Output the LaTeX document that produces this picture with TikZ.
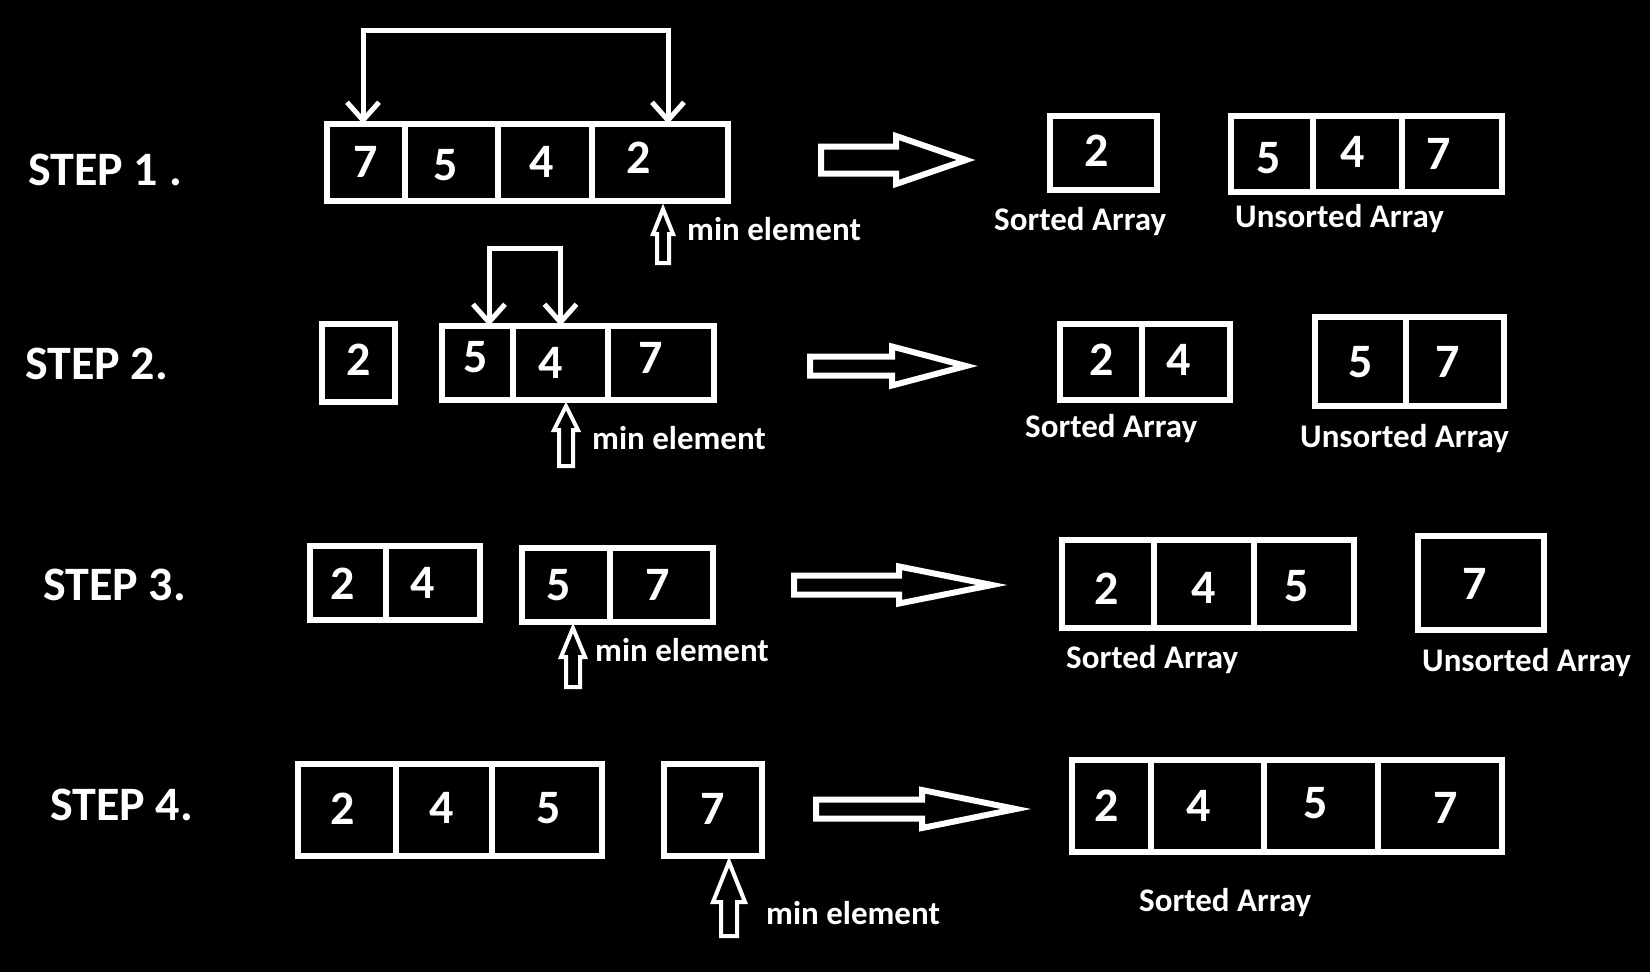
\documentclass[tikz,border=0pt]{standalone}
\usepackage{fontspec}
\setmainfont{Carlito}
\usetikzlibrary{arrows.meta,calc}
\tikzset{
  cell/.style={draw=white, line width=6pt, inner sep=0pt, outer sep=0pt},
  digit/.style={text=white, font=\bfseries\fontsize{48}{48}\selectfont, inner sep=0pt},
  steplabel/.style={text=white, font=\bfseries\fontsize{48}{48}\selectfont, inner sep=0pt, anchor=west},
  caption/.style={text=white, font=\bfseries\fontsize{33}{33}\selectfont, inner sep=0pt, anchor=base west},
  swapline/.style={draw=white, line width=5pt, line join=miter,
    {Straight Barb[length=18pt,width=32pt]}-{Straight Barb[length=18pt,width=32pt]}},
  bigarrow/.style={draw=white, line width=6pt, line join=miter},
  minarrow/.style={draw=white, line width=4pt, line join=miter},
}
\newcommand\cellbox[5]{\node[cell, minimum width={#4-#2}, minimum height={#5-#3}] (#1) at ({(#2+#4)/2},{(#3+#5)/2}) {};}
% name, tail x, centre y, shaft half, head base x, head half, tip x
\newcommand\hollowright[7]{\draw[bigarrow] (#2,#3-#4) coordinate (#1) -- (#5,#3-#4) -- (#5,#3-#6) -- (#7,#3) -- (#5,#3+#6) -- (#5,#3+#4) -- (#2,#3+#4) -- cycle;}
% name, x, tip y, head base y, head half, shaft half, bottom y
\newcommand\hollowup[7]{\draw[minarrow] (#2,#3) coordinate (#1) -- (#2+#5,#4) -- (#2+#6,#4) -- (#2+#6,#7) -- (#2-#6,#7) -- (#2-#6,#4) -- (#2-#5,#4) -- cycle;}
\begin{document}
\begin{tikzpicture}[x=1pt,y=-1pt]
\fill[black] (0,0) rectangle (1650,972);
\useasboundingbox (0,0) rectangle (1650,972);

% ---------- STEP 1 ----------
\node[steplabel] (st1) at (28,170) {STEP 1 .};
\cellbox{s1a}{327}{124}{405}{201}
\cellbox{s1b}{405}{124}{498}{201}
\cellbox{s1c}{498}{124}{592}{201}
\cellbox{s1d}{592}{124}{728}{201}
\node[digit] (d1a) at (366,162) {7};
\node[digit] (d1b) at (446,165) {5};
\node[digit] (d1c) at (542,162) {4};
\node[digit] (d1d) at (639,158) {2};
\draw[swapline] ([xshift=-3pt]s1a.north) -- ++(0,-94) -| ([xshift=8pt]s1d.north);
\hollowup{m1}{663}{209}{234}{10}{6}{263}
\node[caption] (c1m) at (687,240) {min element};
\hollowright{a1}{821}{160}{13.5}{896}{24}{966}
\cellbox{s1s}{1050}{116}{1157}{190}
\node[digit] (d1s) at (1097,151) {2};
\node[caption] (c1s) at (994,230) {Sorted Array};
\cellbox{s1u1}{1231}{116}{1313}{192}
\cellbox{s1u2}{1313}{116}{1402}{192}
\cellbox{s1u3}{1402}{116}{1502}{192}
\node[digit] (d1u1) at (1269,158) {5};
\node[digit] (d1u2) at (1353,152) {4};
\node[digit] (d1u3) at (1439,154) {7};
\node[caption] (c1u) at (1235,227) {Unsorted Array};

% ---------- STEP 2 ----------
\node[steplabel] (st2) at (25,364) {STEP 2.};
\cellbox{s2a}{322}{324}{395}{402}
\node[digit] (d2a) at (359,360) {2};
\cellbox{s2b}{442}{326}{513}{400}
\cellbox{s2c}{513}{326}{608}{400}
\cellbox{s2d}{608}{326}{714}{400}
\node[digit] (d2b) at (476,357) {5};
\node[digit] (d2c) at (551,363) {4};
\node[digit] (d2d) at (651,358) {7};
\draw[swapline] ([xshift=11.5pt]s2b.north) -- ++(0,-78) -| (s2c.north);
\hollowup{m2}{566}{406}{430}{12}{7}{466}
\node[caption] (c2m) at (592,449) {min element};
\hollowright{a2}{810}{366}{9.5}{892}{19.5}{966}
\cellbox{s2s1}{1060}{324}{1142}{400}
\cellbox{s2s2}{1142}{324}{1230}{400}
\node[digit] (d2s1) at (1102,360) {2};
\node[digit] (d2s2) at (1179,360) {4};
\node[caption] (c2s) at (1025,437) {Sorted Array};
\cellbox{s2u1}{1315}{317}{1406}{406}
\cellbox{s2u2}{1406}{317}{1504}{406}
\node[digit] (d2u1) at (1361,362) {5};
\node[digit] (d2u2) at (1448,362) {7};
\node[caption] (c2u) at (1300,447) {Unsorted Array};

% ---------- STEP 3 ----------
\node[steplabel] (st3) at (43,585) {STEP 3.};
\cellbox{s3a}{310}{546}{386}{620}
\cellbox{s3b}{386}{546}{480}{620}
\node[digit] (d3a) at (343,584) {2};
\node[digit] (d3b) at (423,583) {4};
\cellbox{s3c}{522}{548}{610}{622}
\cellbox{s3d}{610}{548}{713}{622}
\node[digit] (d3c) at (559,585) {5};
\node[digit] (d3d) at (658,585) {7};
\hollowup{m3}{573}{628}{657}{12}{7}{687}
\node[caption] (c3m) at (595,661) {min element};
\hollowright{a3}{794}{585}{9.5}{899}{18.5}{992}
\cellbox{s3s1}{1062}{540}{1154}{628}
\cellbox{s3s2}{1154}{540}{1254}{628}
\cellbox{s3s3}{1254}{540}{1354}{628}
\node[digit] (d3s1) at (1107,589) {2};
\node[digit] (d3s2) at (1204,588) {4};
\node[digit] (d3s3) at (1297,586) {5};
\node[caption] (c3s) at (1066,668) {Sorted Array};
\cellbox{s3u}{1418}{536}{1544}{630}
\node[digit] (d3u) at (1475,584) {7};
\node[caption] (c3u) at (1422,671) {Unsorted Array};

% ---------- STEP 4 ----------
\node[steplabel] (st4) at (50,805) {STEP 4.};
\cellbox{s4a}{298}{764}{396}{856}
\cellbox{s4b}{396}{764}{492}{856}
\cellbox{s4c}{492}{764}{602}{856}
\node[digit] (d4a) at (343,809) {2};
\node[digit] (d4b) at (442,808) {4};
\node[digit] (d4c) at (549,808) {5};
\cellbox{s4d}{664}{764}{762}{856}
\node[digit] (d4d) at (713,809) {7};
\hollowup{m4}{729}{862}{902}{16}{8}{936}
\node[caption] (c4m) at (766,924) {min element};
\hollowright{a4}{816}{809}{9.5}{922}{19}{1016}
\cellbox{s4s1}{1072}{760}{1151}{852}
\cellbox{s4s2}{1151}{760}{1264}{852}
\cellbox{s4s3}{1264}{760}{1378}{852}
\cellbox{s4s4}{1378}{760}{1502}{852}
\node[digit] (d4s1) at (1107,806) {2};
\node[digit] (d4s2) at (1199,806) {4};
\node[digit] (d4s3) at (1316,803) {5};
\node[digit] (d4s4) at (1446,808) {7};
\node[caption] (c4s) at (1139,911) {Sorted Array};
\end{tikzpicture}
\end{document}
